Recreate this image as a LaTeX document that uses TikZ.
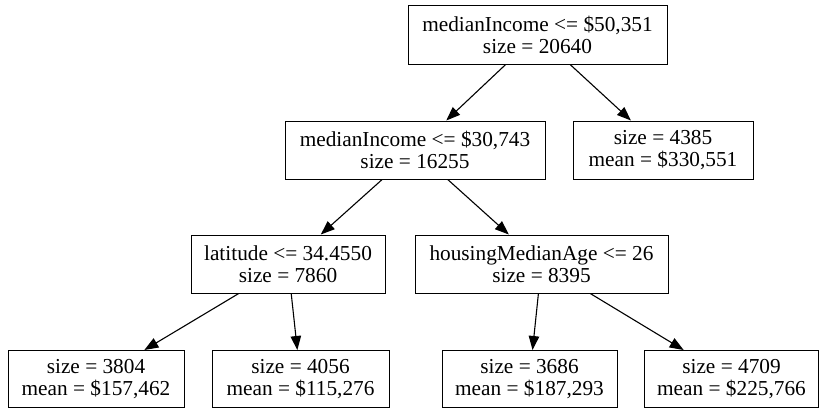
\documentclass[tikz,border=0pt]{standalone}
\usepackage{fontspec}
\setmainfont{Liberation Serif}
\usetikzlibrary{arrows.meta}
\tikzset{
  box/.style={draw=black, line width=1pt, align=center, inner sep=0pt,
    minimum height=58pt, font=\fontsize{21.3pt}{22pt}\selectfont},
  edge/.style={draw=black, line width=1.1pt, -{Triangle[length=14pt,width=10.5pt]}}
}
\begin{document}
\begin{tikzpicture}[x=1pt,y=-1pt]
\useasboundingbox (0,0) rectangle (820,408);
\node[box, minimum width=259pt, minimum height=59pt] (root) at (537.5,34.5) {medianIncome <= \$50,351\\size = 20640};
\node[box, minimum width=260pt] (n2) at (415,150) {medianIncome <= \$30,743\\size = 16255};
\node[box, minimum width=180pt] (n3) at (663,150) {size = 4385\\mean = \$330,551};
\node[box, minimum width=194pt] (n4) at (288,264) {latitude <= 34.4550\\size = 7860};
\node[box, minimum width=253pt] (n5) at (541.5,264) {housingMedianAge <= 26\\size = 8395};
\node[box, minimum width=176pt, minimum height=57pt] (l1) at (96,379) {size = 3804\\mean = \$157,462};
\node[box, minimum width=177pt, minimum height=57pt] (l2) at (300.5,379) {size = 4056\\mean = \$115,276};
\node[box, minimum width=175pt, minimum height=57pt] (l3) at (529.5,379) {size = 3686\\mean = \$187,293};
\node[box, minimum width=174pt, minimum height=57pt] (l4) at (731.5,379) {size = 4709\\mean = \$225,766};
\draw[edge] (root) -- (n2);
\draw[edge] (root) -- (n3);
\draw[edge] (n2) -- (n4);
\draw[edge] (n2) -- (n5);
\draw[edge] (n4) -- (l1);
\draw[edge] (n4) -- (l2);
\draw[edge] (n5) -- (l3);
\draw[edge] (n5) -- (l4);
\end{tikzpicture}
\end{document}
